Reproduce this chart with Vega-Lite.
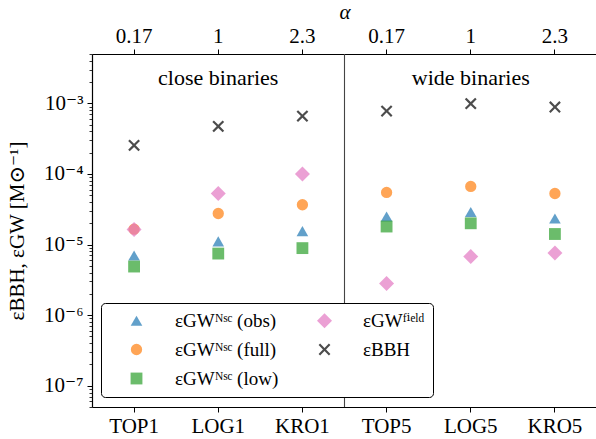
{
  "$schema": "https://vega.github.io/schema/vega-lite/v6.json",
  "width": 505,
  "height": 353,
  "autosize": {"type": "none"},
  "padding": {"left": 92, "top": 54, "right": 0, "bottom": 32},
  "config": {
    "view": {"stroke": null},
    "font": "Liberation Serif, Times New Roman, DejaVu Serif, serif",
    "axis": {
      "domainColor": "black", "domainWidth": 1.2, "tickColor": "black", "tickWidth": 1,
      "labelFont": "Liberation Serif, Times New Roman, DejaVu Serif, serif", "labelFontSize": 21, "labelColor": "black",
      "titleFont": "Liberation Serif, Times New Roman, DejaVu Serif, serif", "titleFontSize": 21, "titleColor": "black", "titleFontWeight": "normal",
      "grid": false, "tickSize": 5
    }
  },
  "data": {"values": [
    {"cat": "TOP1", "series": "obs", "val": 6.98e-6},
    {"cat": "LOG1", "series": "obs", "val": 1.11e-5},
    {"cat": "KRO1", "series": "obs", "val": 1.55e-5},
    {"cat": "TOP5", "series": "obs", "val": 2.49e-5},
    {"cat": "LOG5", "series": "obs", "val": 2.89e-5},
    {"cat": "KRO5", "series": "obs", "val": 2.34e-5},
    {"cat": "TOP1", "series": "full", "val": 1.65e-5},
    {"cat": "LOG1", "series": "full", "val": 2.75e-5},
    {"cat": "KRO1", "series": "full", "val": 3.66e-5},
    {"cat": "TOP5", "series": "full", "val": 5.47e-5},
    {"cat": "LOG5", "series": "full", "val": 6.65e-5},
    {"cat": "KRO5", "series": "full", "val": 5.28e-5},
    {"cat": "TOP1", "series": "low", "val": 4.88e-6},
    {"cat": "LOG1", "series": "low", "val": 7.45e-6},
    {"cat": "KRO1", "series": "low", "val": 8.9e-6},
    {"cat": "TOP5", "series": "low", "val": 1.8e-5},
    {"cat": "LOG5", "series": "low", "val": 2.0e-5},
    {"cat": "KRO5", "series": "low", "val": 1.41e-5},
    {"cat": "TOP1", "series": "field", "val": 1.63e-5},
    {"cat": "LOG1", "series": "field", "val": 5.28e-5},
    {"cat": "KRO1", "series": "field", "val": 1.0e-4},
    {"cat": "TOP5", "series": "field", "val": 2.8e-6},
    {"cat": "LOG5", "series": "field", "val": 6.75e-6},
    {"cat": "KRO5", "series": "field", "val": 7.6e-6},
    {"cat": "TOP1", "series": "bbh", "val": 2.54e-4},
    {"cat": "LOG1", "series": "bbh", "val": 4.72e-4},
    {"cat": "KRO1", "series": "bbh", "val": 6.6e-4},
    {"cat": "TOP5", "series": "bbh", "val": 7.78e-4},
    {"cat": "LOG5", "series": "bbh", "val": 9.9e-4},
    {"cat": "KRO5", "series": "bbh", "val": 8.87e-4}
  ]},
  "resolve": {"axis": {"x": "independent", "y": "independent"}},
  "layer": [
    {
      "mark": {"type": "point", "filled": true, "opacity": 0.7, "strokeWidth": 0},
      "encoding": {
        "x": {"field": "cat", "type": "nominal",
          "scale": {"type": "band", "domain": ["TOP1", "LOG1", "KRO1", "TOP5", "LOG5", "KRO5"], "paddingInner": 0, "paddingOuter": 0},
          "axis": {"orient": "bottom", "title": null, "labelAngle": 0, "labelPadding": 3}},
        "y": {"field": "val", "type": "quantitative",
          "scale": {"type": "log", "domain": [5e-8, 5e-3], "nice": false},
          "axis": {"orient": "left", "values": [1e-7, 1e-6, 1e-5, 1e-4, 1e-3],
            "labelExpr": "datum.value < 5e-7 ? '10⁻⁷' : datum.value < 5e-6 ? '10⁻⁶' : datum.value < 5e-5 ? '10⁻⁵' : datum.value < 5e-4 ? '10⁻⁴' : '10⁻³'",
            "labelPadding": 4, "title": "εBBH, εGW [M⊙⁻¹]", "titlePadding": 16}},
        "color": {"field": "series", "type": "nominal",
          "scale": {"domain": ["obs", "full", "low", "field", "bbh"], "range": ["#1f77b4", "#ff7f0e", "#2ca02c", "#e377c2", "#000000"]},
          "legend": {
            "orient": "none", "legendX": 9, "legendY": 249, "columns": 2, "title": null,
            "strokeColor": "black", "fillColor": "white", "cornerRadius": 4, "padding": 8,
            "rowPadding": 9, "columnPadding": 18, "symbolOffset": 18, "labelOffset": 29,
            "labelFont": "Liberation Serif, Times New Roman, DejaVu Serif, serif", "labelFontSize": 19, "labelColor": "black", "labelLimit": 300,
            "symbolStrokeWidth": 0,
            "labelExpr": "{'obs': 'εGWᴺˢᶜ (obs)', 'full': 'εGWᴺˢᶜ (full)', 'low': 'εGWᴺˢᶜ (low)', 'field': 'εGWᶠⁱᵉˡᵈ', 'bbh': 'εBBH'}[datum.value]"
          }},
        "shape": {"field": "series", "type": "nominal",
          "scale": {"domain": ["obs", "full", "low", "field", "bbh"], "range": ["triangle-up", "circle", "square", "diamond", "M-1,-0.74L-0.74,-1L0,-0.26L0.74,-1L1,-0.74L0.26,0L1,0.74L0.74,1L0,0.26L-0.74,1L-1,0.74L-0.26,0Z"]}},
        "size": {"field": "series", "type": "nominal",
          "scale": {"type": "ordinal", "domain": ["obs", "full", "low", "field", "bbh"], "range": [135, 128, 140, 225, 140]}}
      }
    },
    {
      "data": {"values": [{}]},
      "mark": {"type": "rule", "color": "#444444", "strokeWidth": 1.1},
      "encoding": {
        "x": {"datum": "KRO1", "bandPosition": 1, "type": "nominal",
          "axis": {"orient": "top", "title": "α", "titleFontStyle": "italic", "titlePadding": 3, "labelPadding": 3, "labelAngle": 0,
            "labelExpr": "indexof(datum.value, 'TOP') == 0 ? '0.17' : indexof(datum.value, 'LOG') == 0 ? '1' : '2.3'"}}
      }
    },
    {
      "data": {"values": [{}]},
      "mark": {"type": "text", "text": "close binaries", "fontSize": 22, "font": "Liberation Serif, Times New Roman, DejaVu Serif, serif", "baseline": "middle", "align": "center", "color": "black"},
      "encoding": {
        "x": {"datum": "LOG1", "type": "nominal", "axis": null},
        "y": {"datum": 2.3e-3, "type": "quantitative",
          "axis": {"orient": "left", "values": [5e-8, 6e-8, 7e-8, 8e-8, 9e-8, 2e-7, 3e-7, 4e-7, 5e-7, 6e-7, 7e-7, 8e-7, 9e-7, 2e-6, 3e-6, 4e-6, 5e-6, 6e-6, 7e-6, 8e-6, 9e-6, 2e-5, 3e-5, 4e-5, 5e-5, 6e-5, 7e-5, 8e-5, 9e-5, 2e-4, 3e-4, 4e-4, 5e-4, 6e-4, 7e-4, 8e-4, 9e-4, 2e-3, 3e-3, 4e-3, 5e-3],
            "labels": false, "tickSize": 3, "tickWidth": 0.8, "domain": false, "title": null}}
      }
    },
    {
      "data": {"values": [{}]},
      "mark": {"type": "text", "text": "wide binaries", "fontSize": 22, "font": "Liberation Serif, Times New Roman, DejaVu Serif, serif", "baseline": "middle", "align": "center", "color": "black"},
      "encoding": {
        "x": {"datum": "LOG5", "type": "nominal", "axis": null},
        "y": {"datum": 2.3e-3, "type": "quantitative", "axis": null}
      }
    }
  ]
}
